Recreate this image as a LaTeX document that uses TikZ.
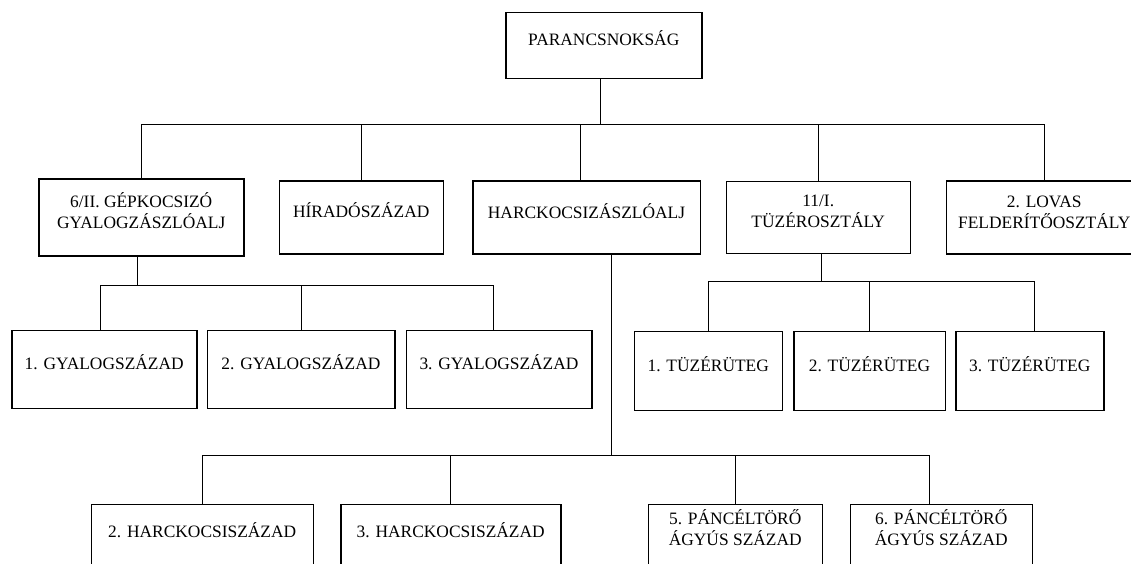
\documentclass[tikz,border=0pt]{standalone}
\usepackage{fontspec}
\setmainfont{Liberation Serif}
\usetikzlibrary{positioning}

\tikzset{
  unit/.style={draw, line width=1.5pt, inner sep=0pt, align=center, anchor=north west,
    font=\fontsize{17.4}{21}\selectfont},
  link/.style={line width=1pt},
}

\begin{document}
\begin{tikzpicture}[x=1pt, y=-1pt]
\useasboundingbox (0,0) rectangle (1131,564);
% command
\node[unit, minimum width=196pt, text height=33pt, text depth=33pt] (cmd) at (505,12) {PARANCSNOKS\'AG};
% battalions
\node[unit, minimum width=205pt, text height=49.5pt, text depth=27.5pt] (inf) at (38,178) {6/II. G\'EPKOCSIZ\'O\\GYALOGZ\'ASZL\'OALJ};
\node[unit, right=34pt of inf, minimum width=164pt, text height=36.5pt, text depth=36.5pt] (hir) {H\'IRAD\'OSZ\'AZAD};
\node[unit, right=28pt of hir, minimum width=227.5pt, text height=38pt, text depth=35pt] (hck) {HARCKOCSIZ\'ASZL\'OALJ};
\node[unit, right=24.5pt of hck, minimum width=184pt, text height=46pt, text depth=26pt] (tuz) {11/I.\\T\"UZ\'EROSZT\'ALY};
\node[unit, right=34.5pt of tuz, minimum width=196pt, text height=47.5pt, text depth=25.5pt] (lov) {2. LOVAS\\FELDER\'IT\H{O}OSZT\'ALY};
% companies
\node[unit, minimum width=185pt, text height=39.5pt, text depth=38.5pt] (g1) at (11,329.5) {1. GYALOGSZ\'AZAD};
\node[unit, right=9pt of g1, minimum width=187.5pt, text height=39.5pt, text depth=38.5pt] (g2) {2. GYALOGSZ\'AZAD};
\node[unit, right=10pt of g2, minimum width=185.5pt, text height=39.5pt, text depth=38.5pt] (g3) {3. GYALOGSZ\'AZAD};
\node[unit, minimum width=148pt, text height=40pt, text depth=39pt] (t1) at (633.5,330.5) {1. T\"UZ\'ER\"UTEG};
\node[unit, right=10pt of t1, minimum width=151.5pt, text height=40pt, text depth=39pt] (t2) {2. T\"UZ\'ER\"UTEG};
\node[unit, right=9pt of t2, minimum width=148pt, text height=40pt, text depth=39pt] (t3) {3. T\"UZ\'ER\"UTEG};
\node[unit, minimum width=222pt, text height=33.5pt, text depth=44pt] (h2) at (90.5,503.5) {2. HARCKOCSISZ\'AZAD};
\node[unit, right=26pt of h2, minimum width=220pt, text height=33.5pt, text depth=44pt] (h3) {3. HARCKOCSISZ\'AZAD};
\node[unit, right=86pt of h3, minimum width=174pt, text height=41pt, text depth=36.5pt] (p5) {5. P\'ANC\'ELT\"OR\H{O}\\\'AGY\'US SZ\'AZAD};
\node[unit, right=26.5pt of p5, minimum width=182pt, text height=41pt, text depth=36.5pt] (p6) {6. P\'ANC\'ELT\"OR\H{O}\\\'AGY\'US SZ\'AZAD};

% bus levels and off-centre joints
\coordinate (bus1) at (0,124.5);
\coordinate (bus2) at (0,285);
\coordinate (bus3) at (0,281.5);
\coordinate (bus4) at (0,455);
\coordinate (cmdout) at ([xshift=-3pt]cmd.south);
\coordinate (hckin) at ([xshift=-6pt]hck.north);
\coordinate (infout) at ([xshift=-3.5pt]inf.south);
\coordinate (g1in) at ([xshift=-3.5pt]g1.north);
\coordinate (g3in) at ([xshift=-6pt]g3.north);
\coordinate (tuzout) at ([xshift=3.5pt]tuz.south);
\coordinate (t3in) at ([xshift=4.5pt]t3.north);
\coordinate (hckout) at ([xshift=25pt]hck.south);
\coordinate (p6in) at ([xshift=-12pt]p6.north);

% command to battalions
\draw[link] (cmdout) -- (cmdout |- bus1);
\draw[link] (inf.north) |- (lov.north |- bus1) -- (lov.north);
\draw[link] (hir.north) -- (hir.north |- bus1);
\draw[link] (hckin) -- (hckin |- bus1);
\draw[link] (tuz.north) -- (tuz.north |- bus1);
% infantry
\draw[link] (infout) -- (infout |- bus2);
\draw[link] (g1in) |- (g3in |- bus2) -- (g3in);
\draw[link] (g2.north) -- (g2.north |- bus2);
% artillery
\draw[link] (tuzout) -- (tuzout |- bus3);
\draw[link] (t1.north) |- (t3in |- bus3) -- (t3in);
\draw[link] (t2.north) -- (t2.north |- bus3);
% tanks
\draw[link] (hckout) -- (hckout |- bus4);
\draw[link] (h2.north) |- (p6in |- bus4) -- (p6in);
\draw[link] (h3.north) -- (h3.north |- bus4);
\draw[link] (p5.north) -- (p5.north |- bus4);
\end{tikzpicture}
\end{document}
